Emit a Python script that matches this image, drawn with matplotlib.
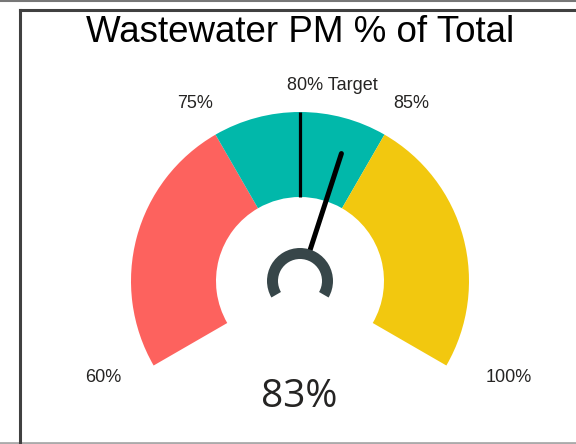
import numpy as np
import matplotlib
matplotlib.use("Agg")
from matplotlib import pyplot as plt
from matplotlib.patches import Wedge
from matplotlib.lines import Line2D

# gauge data
title = "Wastewater PM % of Total"
band_edges = [60, 75, 85, 100]
band_colors = ["#FD625E", "#01B8AA", "#F2C80F"]
gauge_min = 60
gauge_max = 100
target = 80
value = 83
edge_labels = ["60%", "75%", "85%", "100%"]
target_label = "80% Target"

W, H = 576, 444
fig = plt.figure(figsize=(W / 100, H / 100), dpi=100)
ax = fig.add_axes([0, 0, 1, 1])
ax.set_xlim(0, W)
ax.set_ylim(0, H)
ax.set_aspect("equal")
ax.axis("off")

cx, cy = 300, H - 281
r_out, r_in = 169, 84
a_start, a_span = 210, 240


def ang(v):
    return a_start - (v - gauge_min) / (gauge_max - gauge_min) * a_span


def pol(r, a):
    return cx + r * np.cos(np.radians(a)), cy + r * np.sin(np.radians(a))


for i in range(len(band_colors)):
    ax.add_patch(Wedge((cx, cy), r_out, ang(band_edges[i + 1]), ang(band_edges[i]),
                       width=r_out - r_in, color=band_colors[i], lw=0))

# target marker
x0, y0 = pol(r_in, ang(target))
x1, y1 = pol(r_out, ang(target))
ax.plot([x0, x1], [y0, y1], color="black", lw=2.3, solid_capstyle="butt")

# needle (starts under the hub)
x0, y0 = pol(29, ang(value))
x1, y1 = pol(134, ang(value))
ax.plot([x0, x1], [y0, y1], color="black", lw=3.6, solid_capstyle="round")

# hub
ax.add_patch(Wedge((cx, cy), 33, -30, 210, width=11, color="#374649", lw=0, zorder=5))

# labels
fs = 13
lab = dict(ha="center", va="center", fontsize=fs, family="Liberation Sans", color="#252423")
ax.text(103, H - 378, edge_labels[0], **lab)
ax.text(195, H - 103, edge_labels[1], **lab)
ax.text(411, H - 103, edge_labels[2], **lab)
ax.text(509, H - 378, edge_labels[3], **lab)
ax.text(332, H - 85, target_label, **lab)

ax.text(299, H - 397, f"{value}%", ha="center", va="center", fontsize=28,
        family="Open Sans", color="#252423")
ax.text(300, H - 33, title, ha="center", va="center", fontsize=26.5,
        family="Liberation Sans", color="black")

# frame lines
fig.add_artist(Line2D([0, 1], [1 - 1 / H, 1 - 1 / H], color="#777777", lw=1.5))
fig.add_artist(Line2D([0, 1], [1 / H, 1 / H], color="#aaaaaa", lw=2))
fig.add_artist(Line2D([20 / W, 20 / W], [0, 1 - 10 / H], color="#404040", lw=2.2))
fig.add_artist(Line2D([20 / W, 1], [1 - 10 / H, 1 - 10 / H], color="#404040", lw=2.2))

fig.savefig("out.png", dpi=100)
